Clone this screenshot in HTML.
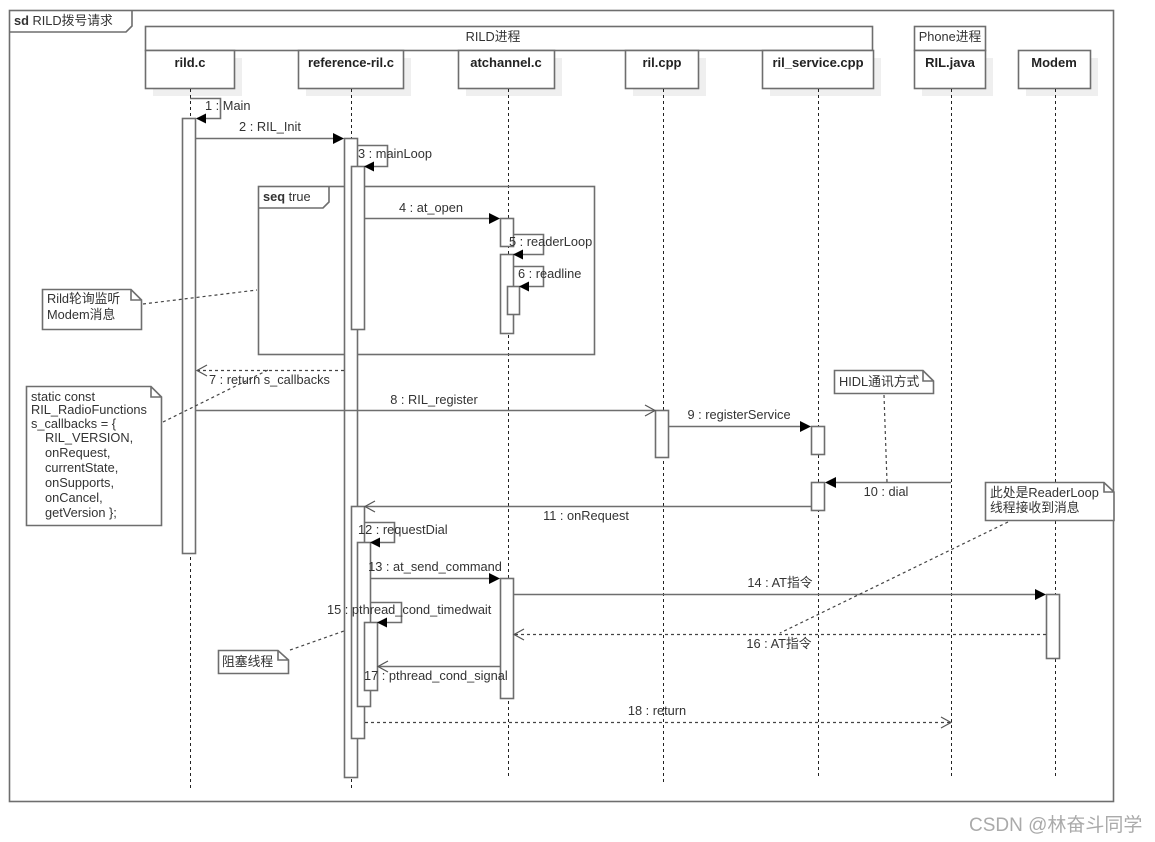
<!DOCTYPE html>
<html><head><meta charset="utf-8"><style>
html,body{margin:0;padding:0;background:#fff;}
svg{display:block;}
text{font-family:"Liberation Sans","Noto Sans CJK SC",sans-serif;font-size:12.8px;fill:#333;}
.h{font-weight:bold;font-size:13px;fill:#222;}
.b{fill:#fff;stroke:#6e6e6e;stroke-width:1.6;}
.sh{fill:#efefef;}
.ln{stroke:#6e6e6e;stroke-width:1.6;fill:none;}
.ll{stroke:#222;stroke-width:1;stroke-dasharray:3,3;fill:none;}
.dl{stroke:#444;stroke-width:1.2;stroke-dasharray:3,3;fill:none;}
.fa{fill:#000;}
.oa{stroke:#555;stroke-width:1.2;fill:none;}
</style></head><body>
<svg width="1155" height="842" viewBox="0 0 1155 842" xmlns="http://www.w3.org/2000/svg">
<rect x="9.5" y="10.5" width="1104" height="791" fill="#fff" stroke="#6e6e6e" stroke-width="1.6"/>
<path d="M9.5 32 H126 L132 26 V10.5" class="ln"/>
<text x="14" y="25"><tspan font-weight="bold">sd</tspan> RILD拨号请求</text>
<rect x="145.5" y="26.5" width="727" height="24" class="b"/>
<text x="493" y="41" text-anchor="middle">RILD进程</text>
<rect x="914.5" y="26.5" width="71" height="24" class="b"/>
<text x="950" y="41" text-anchor="middle">Phone进程</text>
<rect x="153" y="58" width="89" height="38" class="sh"/>
<rect x="306" y="58" width="105" height="38" class="sh"/>
<rect x="466" y="58" width="96" height="38" class="sh"/>
<rect x="633" y="58" width="73" height="38" class="sh"/>
<rect x="770" y="58" width="111" height="38" class="sh"/>
<rect x="922" y="58" width="71" height="38" class="sh"/>
<rect x="1026" y="58" width="72" height="38" class="sh"/>
<rect x="145.5" y="50.5" width="89" height="38" class="b"/>
<rect x="298.5" y="50.5" width="105" height="38" class="b"/>
<rect x="458.5" y="50.5" width="96" height="38" class="b"/>
<rect x="625.5" y="50.5" width="73" height="38" class="b"/>
<rect x="762.5" y="50.5" width="111" height="38" class="b"/>
<rect x="914.5" y="50.5" width="71" height="38" class="b"/>
<rect x="1018.5" y="50.5" width="72" height="38" class="b"/>
<text class="h" x="190" y="67" text-anchor="middle">rild.c</text>
<text class="h" x="351" y="67" text-anchor="middle">reference-ril.c</text>
<text class="h" x="506" y="67" text-anchor="middle">atchannel.c</text>
<text class="h" x="662" y="67" text-anchor="middle">ril.cpp</text>
<text class="h" x="818" y="67" text-anchor="middle">ril_service.cpp</text>
<text class="h" x="950" y="67" text-anchor="middle">RIL.java</text>
<text class="h" x="1054" y="67" text-anchor="middle">Modem</text>
<line x1="190.5" y1="89" x2="190.5" y2="790" class="ll"/>
<line x1="351.5" y1="89" x2="351.5" y2="790" class="ll"/>
<line x1="508.5" y1="89" x2="508.5" y2="778" class="ll"/>
<line x1="663.5" y1="89" x2="663.5" y2="782" class="ll"/>
<line x1="818.5" y1="89" x2="818.5" y2="776" class="ll"/>
<line x1="951.5" y1="89" x2="951.5" y2="777" class="ll"/>
<line x1="1055.5" y1="89" x2="1055.5" y2="777" class="ll"/>
<rect x="258.5" y="186.5" width="336" height="168" fill="none" stroke="#6e6e6e" stroke-width="1.6"/>
<path d="M258.5 208 H323 L329 202 V186.5" class="ln"/>
<text x="263" y="201"><tspan font-weight="bold">seq</tspan> true</text>
<rect x="182.5" y="118.5" width="13" height="435" class="b"/>
<rect x="344.5" y="138.5" width="13" height="639" class="b"/>
<rect x="351.5" y="166.5" width="13" height="163" class="b"/>
<rect x="500.5" y="218.5" width="13" height="28" class="b"/>
<rect x="500.5" y="254.5" width="13" height="79" class="b"/>
<rect x="507.5" y="286.5" width="12" height="28" class="b"/>
<rect x="655.5" y="410.5" width="13" height="47" class="b"/>
<rect x="811.5" y="426.5" width="13" height="28" class="b"/>
<rect x="811.5" y="482.5" width="13" height="28" class="b"/>
<rect x="351.5" y="506.5" width="13" height="232" class="b"/>
<rect x="357.5" y="542.5" width="13" height="164" class="b"/>
<rect x="364.5" y="622.5" width="13" height="68" class="b"/>
<rect x="500.5" y="578.5" width="13" height="120" class="b"/>
<rect x="1046.5" y="594.5" width="13" height="64" class="b"/>
<path d="M190 98.5 H220.5 V118.5 H197" class="ln"/><polygon points="196,118.5 206,113.5 206,123.5" class="fa"/>
<text x="205" y="110">1 : Main</text>
<path d="M357 145.5 H387.5 V166.5 H365" class="ln"/><polygon points="364,166.5 374,161.5 374,171.5" class="fa"/>
<text x="358" y="158">3 : mainLoop</text>
<path d="M513 234.5 H543.5 V254.5 H514" class="ln"/><polygon points="513,254.5 523,249.5 523,259.5" class="fa"/>
<text x="509" y="246">5 : readerLoop</text>
<path d="M513 266.5 H543.5 V286.5 H520" class="ln"/><polygon points="519,286.5 529,281.5 529,291.5" class="fa"/>
<text x="518" y="278">6 : readline</text>
<path d="M364 522.5 H394.5 V542.5 H371" class="ln"/><polygon points="370,542.5 380,537.5 380,547.5" class="fa"/>
<text x="358" y="534">12 : requestDial</text>
<path d="M370 602.5 H401.5 V622.5 H378" class="ln"/><polygon points="377,622.5 387,617.5 387,627.5" class="fa"/>
<text x="327" y="614">15 : pthread_cond_timedwait</text>
<line x1="196" y1="138.5" x2="334" y2="138.5" class="ln"/><polygon points="344,138.5 333,133 333,144" class="fa"/>
<text x="270" y="131" text-anchor="middle">2 : RIL_Init</text>
<line x1="365" y1="218.5" x2="490" y2="218.5" class="ln"/><polygon points="500,218.5 489,213 489,224" class="fa"/>
<text x="431" y="212" text-anchor="middle">4 : at_open</text>
<line x1="197" y1="370.5" x2="344" y2="370.5" class="dl"/><path d="M207 365 L197 370.5 L207 376" class="oa"/>
<text x="209" y="384">7 : return s_callbacks</text>
<line x1="196" y1="410.5" x2="655" y2="410.5" class="ln"/><path d="M645 405 L655 410.5 L645 416" class="oa"/>
<text x="434" y="404" text-anchor="middle">8 : RIL_register</text>
<line x1="669" y1="426.5" x2="801" y2="426.5" class="ln"/><polygon points="811,426.5 800,421 800,432" class="fa"/>
<text x="739" y="419" text-anchor="middle">9 : registerService</text>
<line x1="951" y1="482.5" x2="835" y2="482.5" class="ln"/><polygon points="825,482.5 836,477 836,488" class="fa"/>
<text x="886" y="496" text-anchor="middle">10 : dial</text>
<line x1="811" y1="506.5" x2="365" y2="506.5" class="ln"/><path d="M375 501 L365 506.5 L375 512" class="oa"/>
<text x="586" y="520" text-anchor="middle">11 : onRequest</text>
<line x1="371" y1="578.5" x2="490" y2="578.5" class="ln"/><polygon points="500,578.5 489,573 489,584" class="fa"/>
<text x="435" y="571" text-anchor="middle">13 : at_send_command</text>
<line x1="514" y1="594.5" x2="1036" y2="594.5" class="ln"/><polygon points="1046,594.5 1035,589 1035,600" class="fa"/>
<text x="780" y="587" text-anchor="middle">14 : AT指令</text>
<line x1="1046" y1="634.5" x2="514" y2="634.5" class="dl"/><path d="M524 629 L514 634.5 L524 640" class="oa"/>
<text x="779" y="648" text-anchor="middle">16 : AT指令</text>
<line x1="500" y1="666.5" x2="378" y2="666.5" class="ln"/><path d="M388 661 L378 666.5 L388 672" class="oa"/>
<text x="364" y="680">17 : pthread_cond_signal</text>
<line x1="365" y1="722.5" x2="951" y2="722.5" class="dl"/><path d="M941 717 L951 722.5 L941 728" class="oa"/>
<text x="657" y="715" text-anchor="middle">18 : return</text>
<path d="M42.5 289.5 H131 L141.5 300 V329.5 H42.5 Z M131 289.5 V300 H141.5" class="b"/>
<text x="47" y="303">Rild轮询监听</text><text x="47" y="319">Modem消息</text>
<line x1="143" y1="304" x2="257" y2="290" class="dl"/>
<path d="M26.5 386.5 H151 L161.5 397 V525.5 H26.5 Z M151 386.5 V397 H161.5" class="b"/>
<text x="31" y="401">static const</text>
<text x="31" y="414">RIL_RadioFunctions</text>
<text x="31" y="428">s_callbacks = {</text>
<text x="45" y="442">RIL_VERSION,</text>
<text x="45" y="457">onRequest,</text>
<text x="45" y="472">currentState,</text>
<text x="45" y="487">onSupports,</text>
<text x="45" y="502">onCancel,</text>
<text x="45" y="517">getVersion };</text>
<line x1="163" y1="422" x2="268" y2="370" class="dl"/>
<path d="M834.5 370.5 H923 L933.5 381 V393.5 H834.5 Z M923 370.5 V381 H933.5" class="b"/>
<text x="839" y="386">HIDL通讯方式</text>
<line x1="884" y1="395" x2="887" y2="482" class="dl"/>
<path d="M985.5 482.5 H1104 L1114 492 V520.5 H985.5 Z M1104 482.5 V492 H1114" class="b"/>
<text x="990" y="497">此处是ReaderLoop</text><text x="990" y="512">线程接收到消息</text>
<line x1="1008" y1="522" x2="780" y2="633" class="dl"/>
<path d="M218.5 650.5 H278 L288.5 660 V673.5 H218.5 Z M278 650.5 V660 H288.5" class="b"/>
<text x="222" y="666">阻塞线程</text>
<line x1="290" y1="650" x2="344" y2="631" class="dl"/>
<text x="969" y="831" style="font-size:19px;fill:#aaa;">CSDN @林奋斗同学</text>
</svg>
</body></html>
